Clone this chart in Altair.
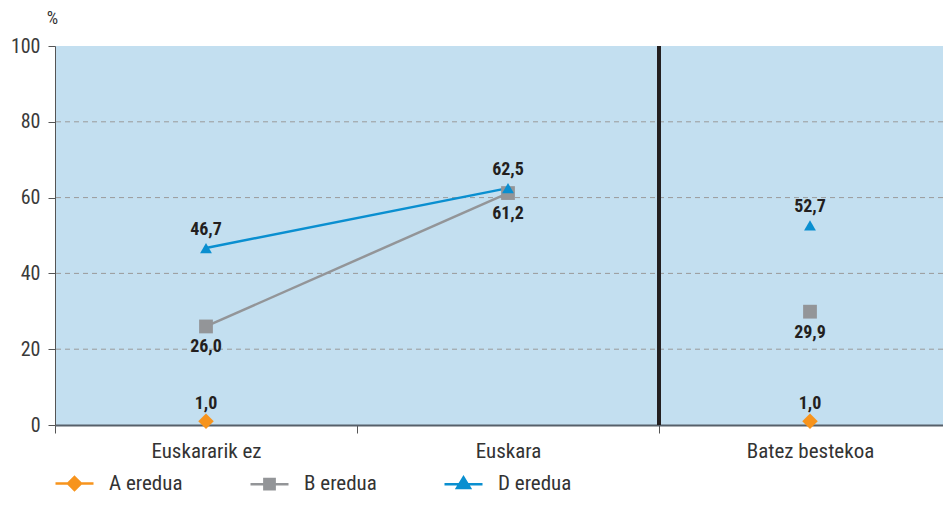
import altair as alt
import pandas as pd

categories = ["Euskararik ez", "Euskara", "Batez bestekoa"]
series = ["A eredua", "B eredua", "D eredua"]
a_values = [1.0, None, 1.0]
b_values = [26.0, 61.2, 29.9]
d_values = [46.7, 62.5, 52.7]
line_categories = ["Euskararik ez", "Euskara"]
line_series = ["B eredua", "D eredua"]
grid_values = [20, 40, 60, 80]
y_ticks = [0, 20, 40, 60, 80, 100]
separator_category = ["Batez bestekoa"]

colors = ["#F7941D", "#939598", "#0A8FD0"]
shapes = ["diamond", "square", "triangle-up"]
marker_sizes = [240, 140, 160]
label_dy = [-17, 21, -18]
legend_paths = [
    "M-1,0L1,0M0,-0.34L0.34,0L0,0.34L-0.34,0Z",
    "M-1,0L1,0M-0.27,-0.27L0.27,-0.27L0.27,0.27L-0.27,0.27Z",
    "M-1,0L1,0M-0.34,0.2L0.34,0.2L0,-0.36Z",
]

rows = []
for s, vals in zip(series, [a_values, b_values, d_values]):
    for c, v in zip(categories, vals):
        if v is None:
            continue
        rows.append({"series": s, "cat": c, "value": v,
                     "label": f"{v:.1f}".replace(".", ",")})
df = pd.DataFrame(rows)
line_df = df[df["cat"].isin(line_categories) & df["series"].isin(line_series)]
grid_df = pd.DataFrame({"value": grid_values})
sep_df = pd.DataFrame({"cat": separator_category})
legend_df = pd.DataFrame({"series": series, "cat": categories, "value": [None] * len(series)})

FONT = "Roboto Condensed"
LABEL_FONT = "Roboto Condensed"

x_scale = alt.Scale(domain=categories, range=[0, 906], paddingInner=0, paddingOuter=0)
y_scale = alt.Scale(domain=[0, 100], nice=False)

x_axis = alt.Axis(title=None, labelAngle=0, tickBand="extent", tickSize=8,
                  domainColor="#56606a", domainWidth=2, tickColor="#555555",
                  labelFontSize=21, labelFont=FONT, labelColor="#333333",
                  labelPadding=7, grid=False)
y_axis = alt.Axis(values=y_ticks, grid=False, title="%", titleAngle=0,
                  titleX=-3, titleY=-28, titleAlign="center",
                  titleBaseline="middle", titleFontSize=18,
                  titleFontWeight="normal", titleFont=FONT,
                  titleColor="#333333",
                  labelFontSize=20, labelFont=FONT, labelColor="#3a3a3a",
                  tickSize=7, tickColor="#555555", domainColor="#555555",
                  labelPadding=8)

x_enc = alt.X("cat:N", scale=x_scale, sort=categories, axis=x_axis)
y_enc = alt.Y("value:Q", scale=y_scale, axis=y_axis)

color_scale = alt.Scale(domain=series, range=colors)

grid = alt.Chart(grid_df).mark_rule(color="#9a9a9a", strokeDash=[5, 4], strokeWidth=1).encode(
    y=y_enc
)

sep = alt.Chart(sep_df).mark_rule(color="#231f20", strokeWidth=4).encode(
    x=alt.X("cat:N", scale=x_scale, sort=categories, bandPosition=0, axis=x_axis)
)

lines = alt.Chart(line_df).mark_line(strokeWidth=2.5).encode(
    x=x_enc, y=y_enc,
    color=alt.Color("series:N", scale=color_scale, legend=None),
    detail="series:N",
)

points = alt.Chart(df).mark_point(filled=True, opacity=1).encode(
    x=x_enc, y=y_enc,
    color=alt.Color("series:N", scale=color_scale, legend=None),
    shape=alt.Shape("series:N", scale=alt.Scale(domain=series, range=shapes), legend=None),
    size=alt.Size("series:N", scale=alt.Scale(domain=series, range=marker_sizes), legend=None),
)

texts = []
for s, dy in zip(series, label_dy):
    texts.append(
        alt.Chart(df[df["series"] == s]).mark_text(
            dy=dy, font=LABEL_FONT, fontSize=18, fontWeight="bold", color="#231f20",
            baseline="middle", align="center"
        ).encode(x=x_enc, y=y_enc, text="label:N")
    )

legend_layer = alt.Chart(legend_df).mark_point(filled=True, opacity=1).encode(
    x=x_enc,
    y=y_enc,
    color=alt.Color("series:N", scale=color_scale,
                    legend=alt.Legend(orient="none", legendX=-1, legendY=417,
                                      direction="horizontal", title=None,
                                      symbolSize=1444, symbolStrokeWidth=2.5,
                                      labelFontSize=21, labelFont=FONT,
                                      labelColor="#333333", labelOffset=14,
                                      columnPadding=62, symbolOpacity=1)),
    stroke=alt.Stroke("series:N", scale=color_scale),
    shape=alt.Shape("series:N", scale=alt.Scale(domain=series, range=legend_paths)),
)

chart = alt.layer(grid, sep, lines, points, *texts, legend_layer).resolve_scale(
    color="independent", shape="independent", stroke="independent", size="independent"
).properties(
    width=888, height=379,
    autosize=alt.AutoSizeParams(type="none"),
    padding={"left": 47, "top": 38, "right": 0, "bottom": 69},
).configure_view(fill="#C3DFF0", stroke=None)

chart.save("out.html", embed_options={"renderer": "svg", "actions": False})
